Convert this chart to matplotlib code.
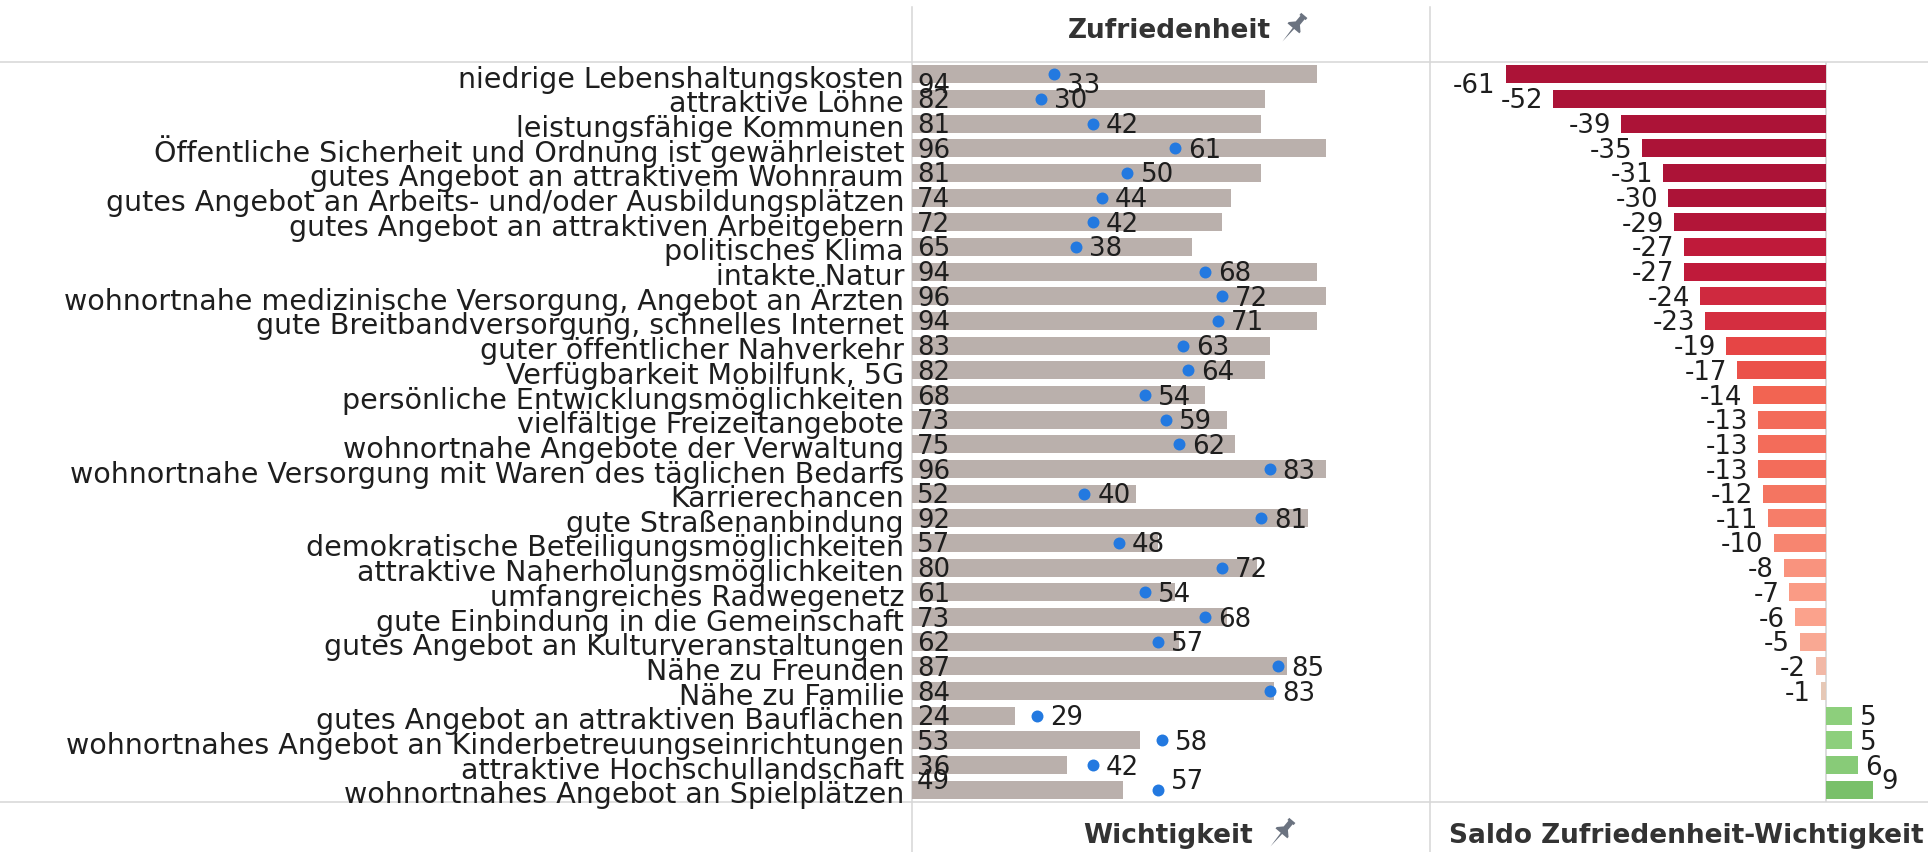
import matplotlib
matplotlib.use("Agg")
import matplotlib.pyplot as plt
import numpy as np
from matplotlib.path import Path
from matplotlib.colors import to_rgb

# ---------------- data ----------------
categories = [
    "niedrige Lebenshaltungskosten",
    "attraktive Löhne",
    "leistungsfähige Kommunen",
    "Öffentliche Sicherheit und Ordnung ist gewährleistet",
    "gutes Angebot an attraktivem Wohnraum",
    "gutes Angebot an Arbeits- und/oder Ausbildungsplätzen",
    "gutes Angebot an attraktiven Arbeitgebern",
    "politisches Klima",
    "intakte Natur",
    "wohnortnahe medizinische Versorgung, Angebot an Ärzten",
    "gute Breitbandversorgung, schnelles Internet",
    "guter öffentlicher Nahverkehr",
    "Verfügbarkeit Mobilfunk, 5G",
    "persönliche Entwicklungsmöglichkeiten",
    "vielfältige Freizeitangebote",
    "wohnortnahe Angebote der Verwaltung",
    "wohnortnahe Versorgung mit Waren des täglichen Bedarfs",
    "Karrierechancen",
    "gute Straßenanbindung",
    "demokratische Beteiligungsmöglichkeiten",
    "attraktive Naherholungsmöglichkeiten",
    "umfangreiches Radwegenetz",
    "gute Einbindung in die Gemeinschaft",
    "gutes Angebot an Kulturveranstaltungen",
    "Nähe zu Freunden",
    "Nähe zu Familie",
    "gutes Angebot an attraktiven Bauflächen",
    "wohnortnahes Angebot an Kinderbetreuungseinrichtungen",
    "attraktive Hochschullandschaft",
    "wohnortnahes Angebot an Spielplätzen",
]
wichtigkeit = [94, 82, 81, 96, 81, 74, 72, 65, 94, 96, 94, 83, 82, 68, 73, 75,
               96, 52, 92, 57, 80, 61, 73, 62, 87, 84, 24, 53, 36, 49]
zufriedenheit = [33, 30, 42, 61, 50, 44, 42, 38, 68, 72, 71, 63, 64, 54, 59, 62,
                 83, 40, 81, 48, 72, 54, 68, 57, 85, 83, 29, 58, 42, 57]
saldo = [-61, -52, -39, -35, -31, -30, -29, -27, -27, -24, -23, -19, -17, -14,
         -13, -13, -13, -12, -11, -10, -8, -7, -6, -5, -2, -1, 5, 5, 6, 9]

title_top = "Zufriedenheit"
title_bottom_left = "Wichtigkeit"
title_bottom_right = "Saldo Zufriedenheit-Wichtigkeit"

# ---------------- styling ----------------
W, H, DPI = 1928, 852, 100
BAR_GREY = "#BAB0AC"
DOT_BLUE = "#2379E0"
LINE_GREY = "#D6D6D6"
TXT = "#1e1e1e"
HDR = "#333333"

# label nudges (pixels, positive = down) for collision-shifted rows
row_nudge = {0: 9, len(categories) - 1: -10}

# diverging colour anchors for the saldo bars
neg_anchor_v = [-30, -27, -23, -19, -14, -10, -6, -2, -1, 0]
neg_anchor_c = ["#AC1337", "#BF1A3A", "#D42E40", "#E64545", "#F26452",
                "#F78570", "#FBA28C", "#F2B8A6", "#E6C8B6", "#E3D2C3"]
pos_anchor_v = [0, 5, 9, 15]
pos_anchor_c = ["#B5DFA5", "#8DCF7C", "#79C06A", "#5FAE55"]


def saldo_color(v):
    if v < 0:
        av, ac = neg_anchor_v, neg_anchor_c
    else:
        av, ac = pos_anchor_v, pos_anchor_c
    rgb = np.array([to_rgb(c) for c in ac])
    vv = np.clip(v, av[0], av[-1])
    return tuple(np.interp(vv, av, rgb[:, k]) for k in range(3))


fig = plt.figure(figsize=(W / DPI, H / DPI), dpi=DPI)

# overlay in pixel coordinates (for grid lines, headers, pins)
ov = fig.add_axes([0, 0, 1, 1], zorder=0)
ov.set_xlim(0, W)
ov.set_ylim(H, 0)
ov.axis("off")

TOP, BOT = 62, 802
X0, X1, X2 = 912, 1430, 1928

ax1 = fig.add_axes([X0 / W, 1 - BOT / H, (X1 - X0) / W, (BOT - TOP) / H], zorder=1)
ax2 = fig.add_axes([X1 / W, 1 - BOT / H, (X2 - X1) / W, (BOT - TOP) / H], zorder=1)
for ax in (ax1, ax2):
    ax.patch.set_alpha(0)
    for s in ax.spines.values():
        s.set_visible(False)
    ax.set_xticks([])
    ax.set_yticks([])

n = len(categories)
y = np.arange(n)

# ---- panel 1: importance bars + satisfaction dots ----
ax1.barh(y, wichtigkeit, height=0.73, color=BAR_GREY, edgecolor="none", zorder=1)
ax1.scatter(zufriedenheit, y, s=74, color=DOT_BLUE, linewidths=0, zorder=3)
ax1.set_xlim(0, 120.2)
ax1.set_ylim(n - 0.5, -0.5)

NUM_FS = 18.7
CAT_FS = 20.5
half_cap = 9.5

for i in range(n):
    nd = row_nudge.get(i, 0)
    ax1.annotate(str(wichtigkeit[i]), xy=(0, i), xytext=(5, -half_cap - nd),
                 textcoords="offset pixels", ha="left", va="baseline",
                 fontsize=NUM_FS, color=TXT, zorder=4)
    ax1.annotate(str(zufriedenheit[i]), xy=(zufriedenheit[i], i),
                 xytext=(13, -half_cap - nd), textcoords="offset pixels",
                 ha="left", va="baseline", fontsize=NUM_FS, color=TXT, zorder=4)
    ax1.annotate(categories[i], xy=(0, i), xytext=(-8, -13.5),
                 textcoords="offset pixels", ha="right", va="baseline",
                 fontsize=CAT_FS, color=TXT, annotation_clip=False)

# ---- panel 2: saldo bars ----
ax2.set_xlim(-75.4, 19.4)
ax2.set_ylim(n - 0.5, -0.5)
ax2.axvline(0, color=LINE_GREY, lw=1.2, zorder=0)
ax2.barh(y, saldo, height=0.73, color=[saldo_color(v) for v in saldo],
         edgecolor="none", zorder=1)
for i, v in enumerate(saldo):
    nd = row_nudge.get(i, 0)
    if v < 0:
        ax2.annotate(str(v), xy=(v, i), xytext=(-10, -half_cap - nd),
                     textcoords="offset pixels", ha="right", va="baseline",
                     fontsize=NUM_FS, color=TXT)
    else:
        ax2.annotate(str(v), xy=(v, i), xytext=(8, -half_cap - nd),
                     textcoords="offset pixels", ha="left", va="baseline",
                     fontsize=NUM_FS, color=TXT)

# ---- grid / frame lines ----
lw = 1.1
ov.plot([0, W], [TOP, TOP], color=LINE_GREY, lw=lw)
ov.plot([0, W], [BOT, BOT], color=LINE_GREY, lw=lw)
ov.plot([X0, X0], [7, H], color=LINE_GREY, lw=lw)
ov.plot([X1, X1], [7, H], color=LINE_GREY, lw=lw)

# ---- headers ----
ov.text(1169, 31, title_top, ha="center", va="center", fontsize=19,
        fontweight="bold", color=HDR)
ov.text(1168, 836, title_bottom_left, ha="center", va="center", fontsize=19,
        fontweight="bold", color=HDR)
ov.text(1449, 836, title_bottom_right, ha="left", va="center", fontsize=19,
        fontweight="bold", color=HDR, clip_on=False)

# pin icon
pin = np.array([(-0.22, 1.0), (0.22, 1.0), (0.22, 0.85), (0.15, 0.85), (0.15, 0.45),
                (0.42, 0.18), (0.42, 0.08), (0.05, 0.08), (0.0, -0.85), (-0.05, 0.08),
                (-0.42, 0.08), (-0.42, 0.18), (-0.15, 0.45), (-0.15, 0.85),
                (-0.22, 0.85), (-0.22, 1.0)])
ang = np.deg2rad(-40)
rot = np.array([[np.cos(ang), -np.sin(ang)], [np.sin(ang), np.cos(ang)]])
pin_r = pin @ rot.T
pin_marker = Path(pin_r, closed=True)
for px, py in [(1292, 29), (1280, 834)]:
    ov.plot([px], [py], marker=pin_marker, markersize=24, color="#6B7380",
            markeredgewidth=0, linestyle="none")

fig.savefig("out.png", dpi=DPI)
